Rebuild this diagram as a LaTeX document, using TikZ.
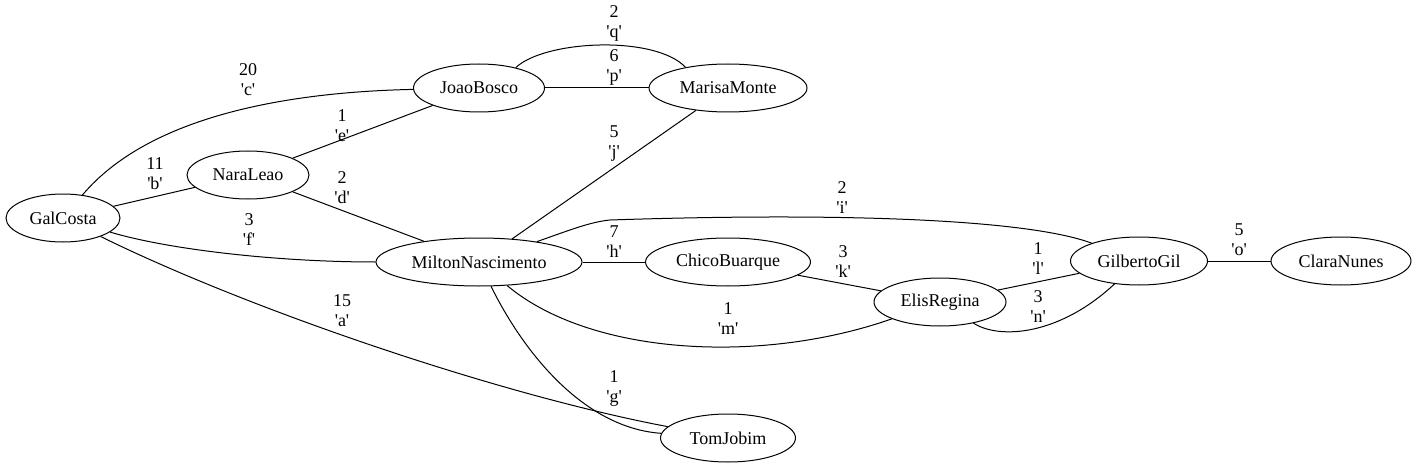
\documentclass[tikz,border=0pt]{standalone}
\usepackage{fontspec}
\setmainfont{Liberation Serif}
\usetikzlibrary{shapes.geometric}
\newcommand{\qlet}[1]{\textquotesingle#1\textquotesingle}

\begin{document}
\begin{tikzpicture}[x=1pt, y=-1pt, line width=1pt,
  artist/.style={draw, ellipse, minimum height=48pt, inner sep=0pt, font=\fontsize{18}{20}\selectfont},
  wlabel/.style={align=center, inner sep=0pt, font=\fontsize{18}{20}\selectfont}]
\useasboundingbox (0,0) rectangle (1416,468);
\node[artist, minimum width=114pt] (galcosta) at (63,218) {GalCosta};
\node[artist, minimum width=122pt] (naraleao) at (248,175) {NaraLeao};
\node[artist, minimum width=131pt] (joaobosco) at (479,88) {JoaoBosco};
\node[artist, minimum width=158pt] (marisamonte) at (728,88) {MarisaMonte};
\node[artist, minimum width=206pt] (milton) at (479,262) {MiltonNascimento};
\node[artist, minimum width=165pt] (chico) at (728,262) {ChicoBuarque};
\node[artist, minimum width=132pt] (elis) at (940,302) {ElisRegina};
\node[artist, minimum width=137pt] (gilberto) at (1139,261) {GilbertoGil};
\node[artist, minimum width=140pt] (clara) at (1341,261) {ClaraNunes};
\node[artist, minimum width=135pt] (tomjobim) at (728,438) {TomJobim};
\draw (galcosta) .. controls (250,310) and (500,395) .. (tomjobim);
\draw (galcosta) -- (naraleao);
\draw (galcosta) .. controls (150,115) and (290,92) .. (joaobosco);
\draw (naraleao) -- (milton);
\draw (naraleao) -- (joaobosco);
\draw (galcosta) .. controls (170,250) and (280,262) .. (milton);
\draw (milton) .. controls (525,355) and (585,428) .. (tomjobim);
\draw (milton) -- (chico);
\draw (milton) .. controls (570,230) and (590,222) .. (610,220) .. controls (850,212) and (1030,220) .. (gilberto);
\draw (milton) -- (marisamonte);
\draw (chico) -- (elis);
\draw (elis) -- (gilberto);
\draw (milton) .. controls (590,355) and (760,365) .. (elis);
\draw (elis) .. controls (1000,340) and (1060,335) .. (gilberto);
\draw (gilberto) -- (clara);
\draw (joaobosco) -- (marisamonte);
\draw (joaobosco.29) .. controls (545,40) and (655,35) .. (marisamonte.154);
\node[wlabel] (la) at (342,311) {15\\\qlet{a}};
\node[wlabel] (lb) at (155,174) {11\\\qlet{b}};
\node[wlabel] (lc) at (248,80) {20\\\qlet{c}};
\node[wlabel] (ld) at (342,188) {2\\\qlet{d}};
\node[wlabel] (le) at (342,126) {1\\\qlet{e}};
\node[wlabel] (lf) at (249,230) {3\\\qlet{f}};
\node[wlabel] (lg) at (614,388) {1\\\qlet{g}};
\node[wlabel] (lh) at (614,242) {7\\\qlet{h}};
\node[wlabel] (li) at (842,198) {2\\\qlet{i}};
\node[wlabel] (lj) at (614,144) {5\\\qlet{j}};
\node[wlabel] (lk) at (843,262) {3\\\qlet{k}};
\node[wlabel] (ll) at (1038,259) {1\\\qlet{l}};
\node[wlabel] (lm) at (728,319) {1\\\qlet{m}};
\node[wlabel] (ln) at (1038,307) {3\\\qlet{n}};
\node[wlabel] (lo) at (1239,240) {5\\\qlet{o}};
\node[wlabel] (lp) at (614,67) {6\\\qlet{p}};
\node[wlabel] (lq) at (614,23) {2\\\qlet{q}};
\end{tikzpicture}
\end{document}
